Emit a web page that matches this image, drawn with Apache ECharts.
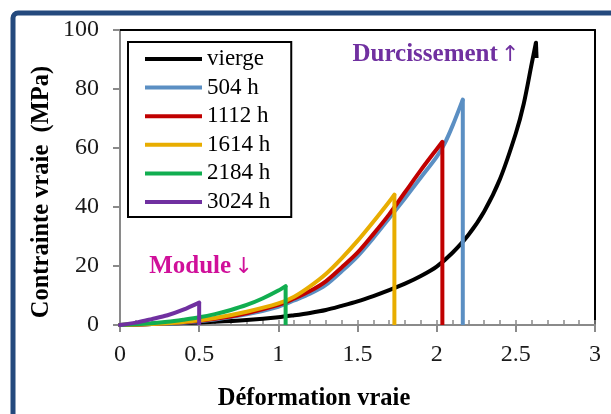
<!DOCTYPE html>
<html>
<head>
<meta charset="utf-8">
<script src="https://cdn.jsdelivr.net/npm/echarts@6/dist/echarts.min.js"></script>
<style>
html,body{margin:0;padding:0;background:#fff;}
#chart{width:611px;height:414px;}
</style>
</head>
<body>
<div id="chart"></div>
<script>
// ---- data ----
const seriesNames = ['vierge', '504 h', '1112 h', '1614 h', '2184 h', '3024 h'];
const seriesColors = ['#000000', '#5b8fc3', '#c00000', '#e8ad00', '#11ae50', '#7030a0'];

const viergeX = [0, 0.2, 0.4, 0.6, 0.8, 1.0, 1.1, 1.2, 1.3, 1.4, 1.5, 1.6, 1.7, 1.8, 1.9, 2.0, 2.1, 2.2, 2.3, 2.4, 2.5, 2.55, 2.6, 2.627];
const viergeY = [0, 0.3, 0.7, 1.1, 1.7, 2.6, 3.3, 4.1, 5.1, 6.5, 8.0, 9.8, 11.8, 14.0, 16.6, 19.8, 24.5, 30.5, 38.5, 49.5, 65.0, 75.0, 88.5, 95.7];
const viergeEndY = 90.5;

const h504X = [0, 0.2, 0.4, 0.6, 0.8, 1.0, 1.1, 1.2, 1.3, 1.4, 1.5, 1.6, 1.7, 1.8, 1.9, 2.0, 2.05, 2.1, 2.165];
const h504Y = [0, 0.3, 0.8, 1.9, 3.6, 6.2, 8.3, 10.6, 13.6, 18.2, 23.3, 29.5, 36.2, 43.0, 50.0, 57.0, 61.5, 67.5, 76.4];

const h1112X = [0, 0.2, 0.4, 0.6, 0.8, 1.0, 1.1, 1.2, 1.3, 1.4, 1.5, 1.6, 1.7, 1.8, 1.9, 2.0, 2.036];
const h1112Y = [0, 0.35, 0.9, 2.1, 4.0, 6.8, 9.0, 11.5, 14.8, 19.5, 24.5, 30.8, 37.5, 45.0, 52.5, 59.6, 62.1];

const h1614X = [0, 0.2, 0.4, 0.6, 0.8, 1.0, 1.1, 1.2, 1.3, 1.4, 1.5, 1.6, 1.7, 1.733];
const h1614Y = [0, 0.35, 1.0, 2.4, 4.5, 7.3, 9.6, 13.1, 17.3, 22.6, 28.5, 35.0, 41.8, 44.2];

const h2184X = [0, 0.1, 0.2, 0.3, 0.4, 0.5, 0.6, 0.7, 0.8, 0.9, 1.0, 1.046];
const h2184Y = [0, 0.25, 0.6, 1.1, 1.8, 2.6, 3.7, 5.1, 6.8, 9.0, 11.7, 13.2];

const h3024X = [0, 0.1, 0.2, 0.3, 0.4, 0.5];
const h3024Y = [0, 0.8, 2.0, 3.3, 5.2, 7.6];

const xTicks = [0, 0.5, 1, 1.5, 2, 2.5, 3];
const yTicks = [0, 20, 40, 60, 80, 100];

const xTitle = 'Déformation vraie';
const yTitle = 'Contrainte vraie  (MPa)';
const noteUp = 'Durcissement';
const noteUpArrow = '↑';
const noteDown = 'Module';
const noteDownArrow = '↓';

// ---- build ----
const curvesX = [viergeX, h504X, h1112X, h1614X, h2184X, h3024X];
const curvesY = [viergeY, h504Y, h1112Y, h1614Y, h2184Y, h3024Y];
const dropEnds = [viergeEndY, 0, 0, 0, 0, 0];

const zip = (xs, ys) => xs.map((x, i) => [x, ys[i]]);
const FONT = 'Liberation Serif';
const AXIS_GRAY = '#8a8a8a';

const series = [];
seriesNames.forEach((name, i) => {
  const xs = curvesX[i], ys = curvesY[i];
  series.push({
    name, type: 'line', xAxisIndex: 0, yAxisIndex: 0,
    data: zip(xs, ys), smooth: 0.3, showSymbol: false, symbol: 'none',
    lineStyle: { color: seriesColors[i], width: 4, cap: 'round', join: 'round' },
    itemStyle: { color: seriesColors[i] }, z: 2 + i, silent: true
  });
  const lx = xs[xs.length - 1], ly = ys[ys.length - 1];
  series.push({
    name, type: 'line', xAxisIndex: 0, yAxisIndex: 0,
    data: [[lx, ly], [lx + (i === 0 ? 0.004 : 0), dropEnds[i]]], showSymbol: false, symbol: 'none',
    lineStyle: { color: seriesColors[i], width: 4, cap: 'butt', join: 'round' },
    itemStyle: { color: seriesColors[i] }, z: 2 + i, silent: true
  });
});

const noteText = (main, arrow, color, x, y) => ({
  type: 'text', x, y,
  style: {
    text: '{m|' + main + '} {a|' + arrow + '}',
    textAlign: 'center', textVerticalAlign: 'middle',
    rich: {
      m: { fontFamily: FONT, fontWeight: 'bold', fontSize: 25, fill: color, color: color },
      a: { fontFamily: 'DejaVu Sans', fontWeight: 'normal', fontSize: 22, fill: color, color: color }
    }
  }
});

const chart = echarts.init(document.getElementById('chart'), null, { renderer: 'canvas' });
chart.setOption({
  animation: false,
  backgroundColor: '#ffffff',
  grid: { left: 120, right: 16, top: 30, bottom: 89, containLabel: false },
  xAxis: [
    {
      type: 'value', position: 'bottom', min: xTicks[0], max: xTicks[xTicks.length - 1],
      interval: xTicks[1] - xTicks[0],
      axisLine: { show: true, onZero: false, lineStyle: { color: AXIS_GRAY, width: 2 } },
      axisTick: { show: true, inside: false, length: 7, lineStyle: { color: AXIS_GRAY, width: 2 } },
      axisLabel: { show: true, margin: 18, fontFamily: FONT, fontSize: 24, color: '#1a1a1a',
        formatter: v => String(v) },
      splitLine: { show: false }
    },
    {
      type: 'value', position: 'bottom', min: 0, max: 3, interval: 0.1,
      axisLine: { show: false, onZero: false },
      axisTick: { show: true, inside: true, length: 5, lineStyle: { color: AXIS_GRAY, width: 1.5 } },
      axisLabel: { show: false }, splitLine: { show: false }
    },
    {
      type: 'value', position: 'top', min: 0, max: 3,
      axisLine: { show: true, onZero: false, lineStyle: { color: '#000', width: 2 } },
      axisTick: { show: false }, axisLabel: { show: false }, splitLine: { show: false }
    }
  ],
  yAxis: [
    {
      type: 'value', position: 'left', min: yTicks[0], max: yTicks[yTicks.length - 1],
      interval: yTicks[1] - yTicks[0],
      axisLine: { show: true, onZero: false, lineStyle: { color: AXIS_GRAY, width: 2 } },
      axisTick: { show: true, inside: false, length: 7, lineStyle: { color: AXIS_GRAY, width: 2 } },
      axisLabel: { show: true, margin: 21, fontFamily: FONT, fontSize: 24, color: '#1a1a1a' },
      splitLine: { show: false }
    },
    {
      type: 'value', position: 'right', min: 0, max: 100,
      axisLine: { show: true, onZero: false, lineStyle: { color: '#000', width: 2 } },
      axisTick: { show: false }, axisLabel: { show: false }, splitLine: { show: false }
    }
  ],
  legend: {
    show: true, orient: 'vertical', left: 128, top: 42,
    data: seriesNames, icon: 'rect', itemWidth: 57, itemHeight: 4, itemGap: 5.6,
    padding: [5.5, 21, 3.5, 17], borderColor: '#000', borderWidth: 2, backgroundColor: '#fff',
    textStyle: { fontFamily: FONT, fontSize: 23, color: '#000' },
    selectedMode: false
  },
  graphic: [
    { type: 'rect', shape: { x: 13, y: 13, width: 700, height: 500, r: 5 },
      style: { fill: 'none', stroke: '#24497d', lineWidth: 5 }, z: 100, silent: true },
    { type: 'text', x: 42, y: 192, rotation: Math.PI / 2,
      style: { text: yTitle, fontFamily: FONT, fontWeight: 'bold', fontSize: 24.5, fill: '#000',
        textAlign: 'center', textVerticalAlign: 'middle' } },
    { type: 'text', x: 314, y: 399,
      style: { text: xTitle, fontFamily: FONT, fontWeight: 'bold', fontSize: 24.5, fill: '#000',
        textAlign: 'center', textVerticalAlign: 'middle' } },
    noteText(noteUp, noteUpArrow, '#7030a0', 436, 55),
    noteText(noteDown, noteDownArrow, '#d0109a', 201, 267)
  ],
  series
});
</script>
</body>
</html>
